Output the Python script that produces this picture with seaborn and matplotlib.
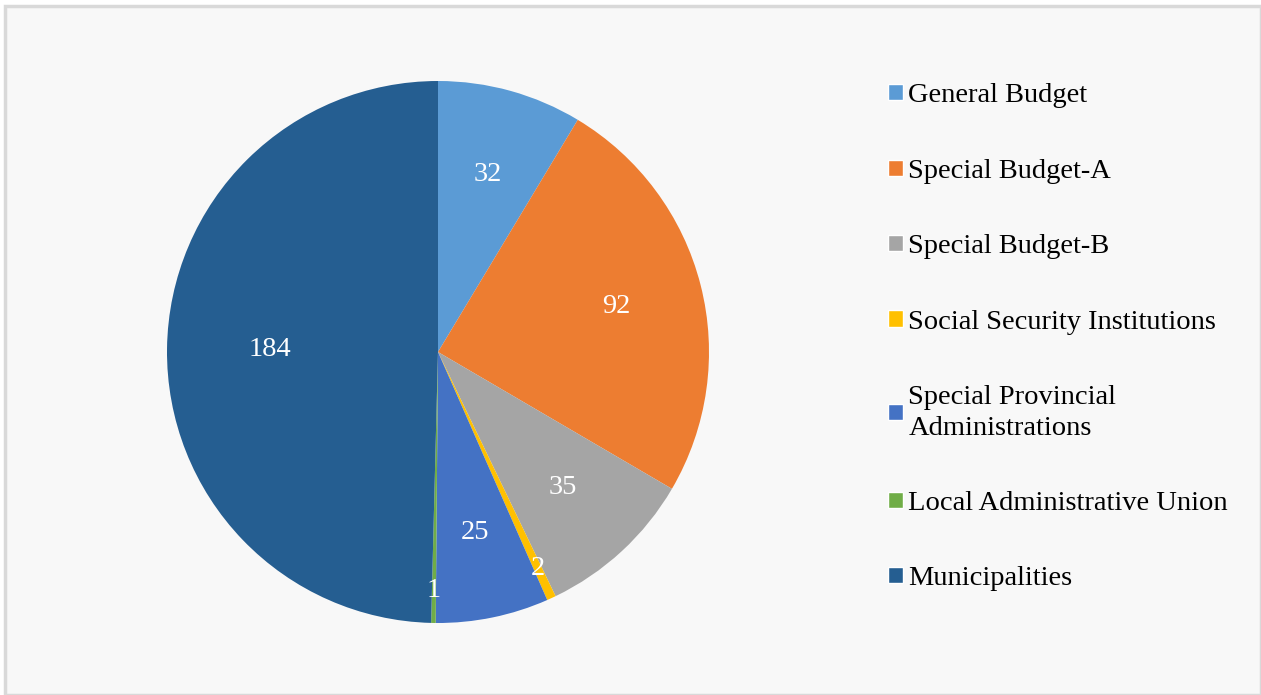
import numpy as np
import matplotlib
matplotlib.use("Agg")
from matplotlib import pyplot as plt
from matplotlib.patches import Rectangle
import seaborn as sns

categories = [
    "General Budget",
    "Special Budget-A",
    "Special Budget-B",
    "Social Security Institutions",
    "Special Provincial\nAdministrations",
    "Local Administrative Union",
    "Municipalities",
]
counts = [32, 92, 35, 2, 25, 1, 184]
slice_colors = ["#5B9BD5", "#ED7D31", "#A5A5A5", "#FFC000", "#4472C4", "#70AD47", "#255E91"]


def main():
    sns.set_theme(style="white")
    plt.rcParams["font.family"] = ["Liberation Serif", "DejaVu Serif"]
    palette = sns.color_palette(slice_colors)

    fig = plt.figure(figsize=(12.61, 6.95), dpi=100)
    fig.patch.set_facecolor("white")

    # light frame like the original chart area
    fig.patches.append(Rectangle((5 / 1261, 0), 1 - 5 / 1261, 1 - 6 / 695,
                                 transform=fig.transFigure, facecolor="#F8F8F8",
                                 edgecolor="#D9D9D9", linewidth=2.5, zorder=-5))

    cx, cy, r = 438, 695 - 352, 271
    ax = fig.add_axes([(cx - r) / 1261, (cy - r) / 695, 2 * r / 1261, 2 * r / 695])
    ax.set_facecolor("none")
    ax.set_zorder(2)

    wedges, _ = ax.pie(counts, colors=palette, startangle=90, counterclock=False,
                       radius=1.0, wedgeprops=dict(linewidth=0))
    ax.set_xlim(-1, 1)
    ax.set_ylim(-1, 1)
    ax.set_aspect("equal")
    ax.axis("off")

    # value labels inside each slice
    for w, v in zip(wedges, counts):
        ang = np.deg2rad((w.theta1 + w.theta2) / 2)
        if v < 5:
            dist = 0.88
        elif v > 150:
            dist = 0.62
        else:
            dist = 0.68
        ax.text(dist * np.cos(ang), dist * np.sin(ang), str(v), ha="center", va="center",
                color="white", fontsize=20.5)

    handles = [Rectangle((0, 0), 1, 1, facecolor=c) for c in palette]
    leg = fig.legend(handles, categories, loc="upper left", bbox_to_anchor=(877 / 1261, 1 - 72 / 695),
                     frameon=False, fontsize=20.5, handlelength=0.5, handleheight=0.5,
                     handletextpad=0.2, labelspacing=1.77, borderaxespad=0, labelcolor="black")
    for t in leg.get_texts():
        t.set_linespacing(1.3)
    leg.set_zorder(3)

    fig.savefig("out.png", dpi=100, facecolor=fig.get_facecolor())
    plt.close(fig)


if __name__ == "__main__":
    main()
